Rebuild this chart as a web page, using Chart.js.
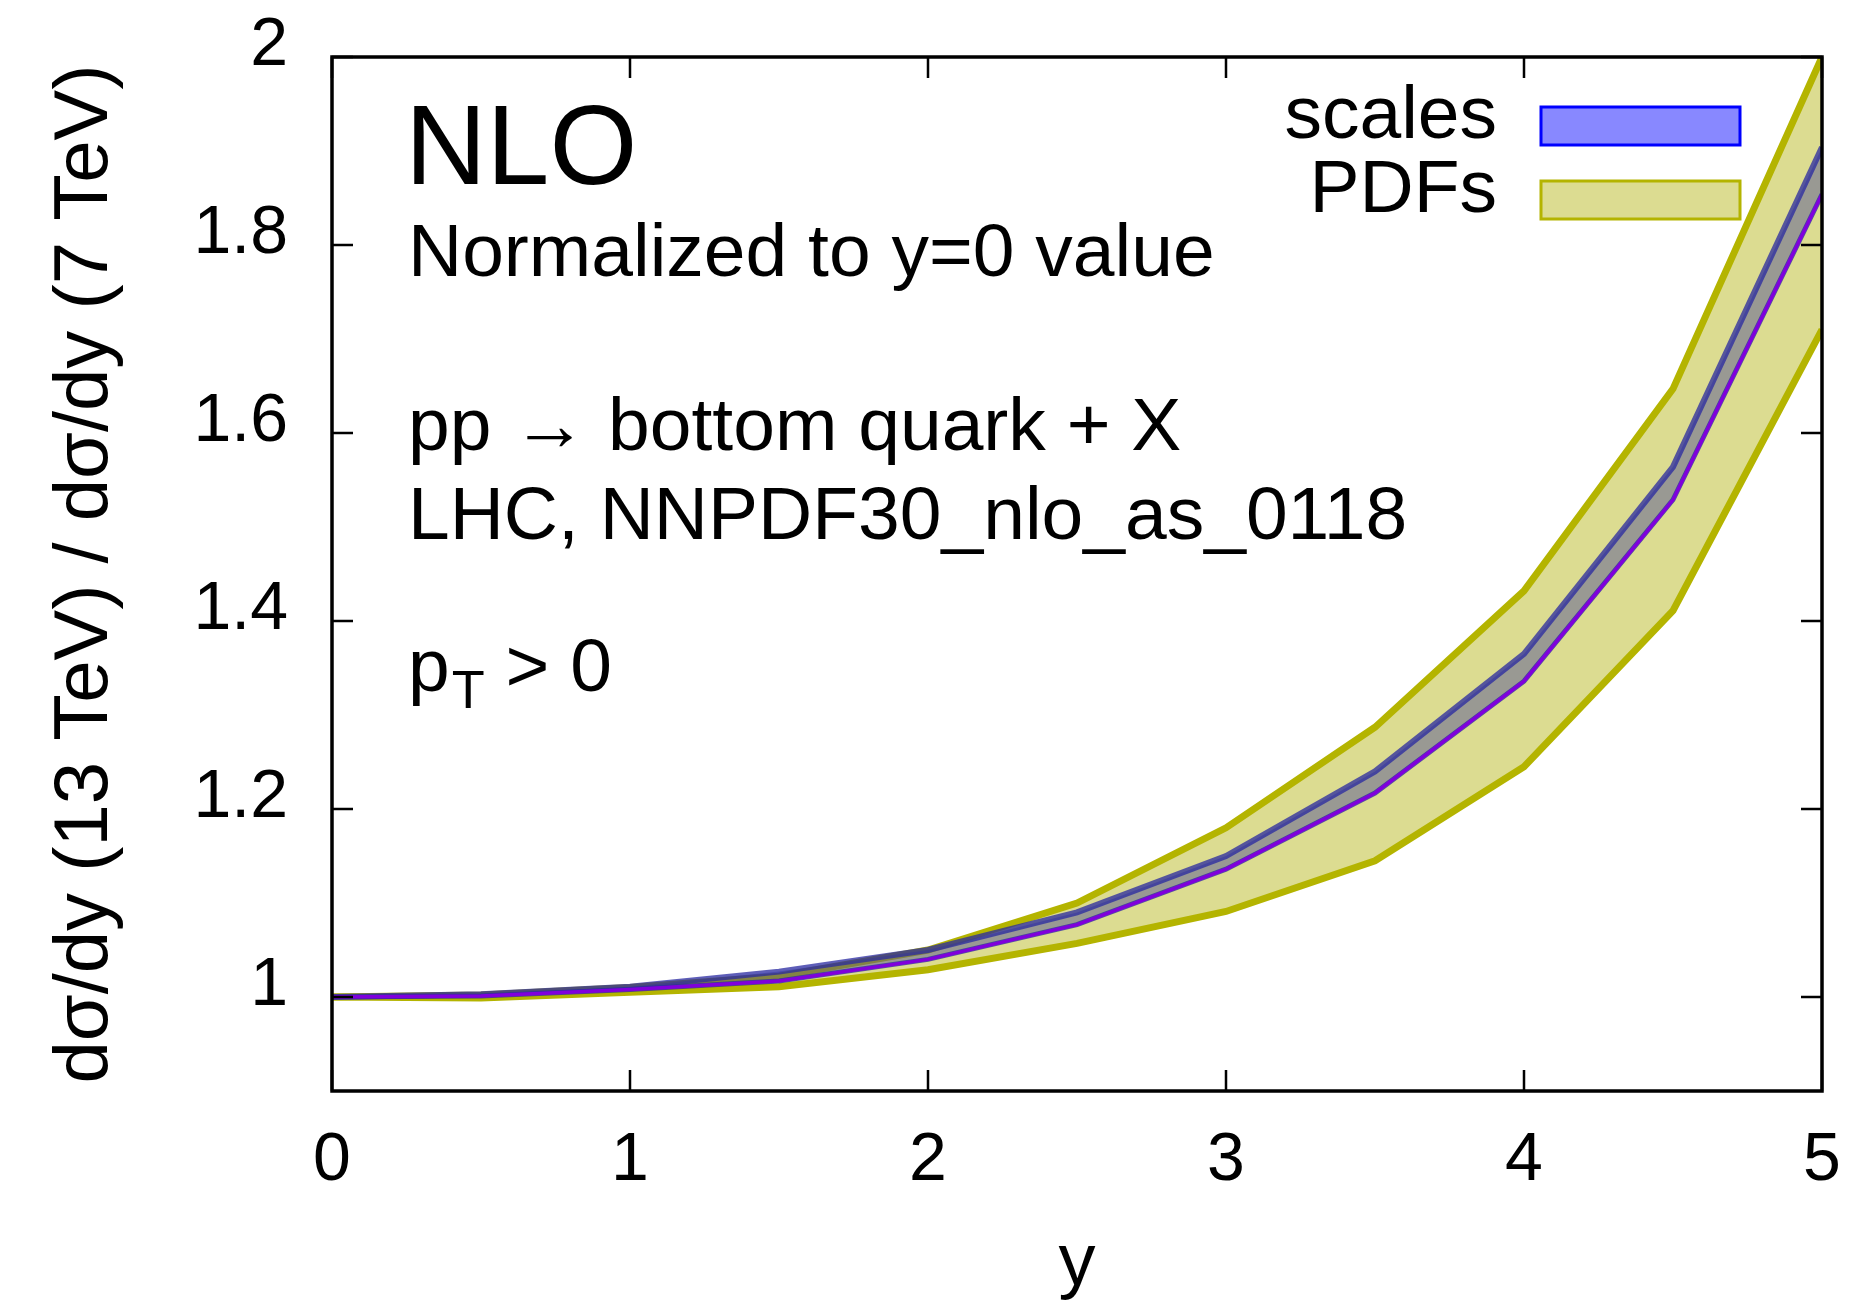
<!DOCTYPE html>
<html>
<head>
<meta charset="utf-8">
<script src="https://cdn.jsdelivr.net/npm/chart.js@4.4.1/dist/chart.umd.min.js"></script>
<style>
html, body { margin: 0; padding: 0; background: #fff; }
canvas { display: block; }
</style>
</head>
<body>
<canvas id="grafico" width="1859" height="1309"></canvas>
<script>
// rapidez y (eixo x)
const rapidez = [0, 0.5, 1, 1.5, 2, 2.5, 3, 3.5, 4, 4.5, 5];

// banda PDF (superior / inferior)
const pdfSup = [1.000, 1.002, 1.010, 1.022, 1.050, 1.100, 1.180, 1.287, 1.432, 1.647, 2.000];
const pdfInf = [1.000, 0.999, 1.005, 1.011, 1.029, 1.057, 1.091, 1.145, 1.245, 1.411, 1.710];

// banda de escalas + linha central
const escalaSup = [1.000, 1.003, 1.011, 1.027, 1.050, 1.090, 1.150, 1.240, 1.365, 1.564, 1.904];
const central   = [1.000, 1.001, 1.008, 1.017, 1.040, 1.077, 1.136, 1.217, 1.336, 1.529, 1.854];

// ticks
const xTicks = [0, 1, 2, 3, 4, 5];
const yTicks = [1, 1.2, 1.4, 1.6, 1.8, 2];

const FONTE = '"Liberation Sans", Arial, Helvetica, sans-serif';
const TICK = 21;

function pontos(valores) {
  return rapidez.map((x, i) => ({x: x, y: valores[i]}));
}

// moldura, ticks para dentro, textos e legenda
const molduraETextos = {
  id: 'molduraETextos',
  afterDatasetsDraw(chart) {
    const ctx = chart.ctx;
    const a = chart.chartArea;
    const sx = chart.scales.x, sy = chart.scales.y;
    ctx.save();

    //TICKS
    ctx.strokeStyle = '#000';
    ctx.lineWidth = 2.5;
    ctx.beginPath();
    xTicks.forEach(v => {
      const px = sx.getPixelForValue(v);
      ctx.moveTo(px, a.bottom); ctx.lineTo(px, a.bottom - TICK);
      ctx.moveTo(px, a.top); ctx.lineTo(px, a.top + TICK);
    });
    yTicks.forEach(v => {
      const py = sy.getPixelForValue(v);
      ctx.moveTo(a.left, py); ctx.lineTo(a.left + TICK, py);
      ctx.moveTo(a.right, py); ctx.lineTo(a.right - TICK, py);
    });
    ctx.stroke();

    //MOLDURA
    ctx.lineWidth = 3.5;
    ctx.strokeRect(a.left, a.top, a.right - a.left, a.bottom - a.top);

    //TEXTOS
    ctx.fillStyle = '#000';
    ctx.textAlign = 'left';
    ctx.textBaseline = 'alphabetic';
    ctx.font = '113px ' + FONTE;
    ctx.fillText('NLO', 405, 184);
    ctx.font = '75px ' + FONTE;
    ctx.fillText('Normalized to y=0 value', 408, 276);
    ctx.fillText('pp \u2192 bottom quark + X', 408, 450);
    ctx.fillText('LHC, NNPDF30_nlo_as_0118', 408, 539);
    ctx.fillText('p', 408, 691);
    let w = ctx.measureText('p').width;
    ctx.font = '54px ' + FONTE;
    ctx.fillText('T', 408 + w + 2, 708);
    const wT = ctx.measureText('T').width;
    ctx.font = '75px ' + FONTE;
    ctx.fillText(' > 0', 408 + w + 2 + wT, 691);

    //LEGENDA
    ctx.textAlign = 'right';
    ctx.fillText('scales', 1497, 138);
    ctx.fillText('PDFs', 1497, 212);
    ctx.lineWidth = 3;
    ctx.fillStyle = '#8888ff';
    ctx.strokeStyle = '#0000ff';
    ctx.fillRect(1541, 107, 199, 38);
    ctx.strokeRect(1541, 107, 199, 38);
    ctx.fillStyle = '#dcdc91';
    ctx.strokeStyle = '#b4b400';
    ctx.fillRect(1541, 181, 199, 38);
    ctx.strokeRect(1541, 181, 199, 38);

    ctx.restore();
  }
};

new Chart(document.getElementById('grafico'), {
  type: 'line',
  data: {
    datasets: [
      {
        label: 'PDFs inf',
        data: pontos(pdfInf),
        borderColor: '#b4b400',
        borderWidth: 7,
        backgroundColor: '#dcdc91',
        fill: '+1',
        order: 5
      },
      {
        label: 'PDFs sup',
        data: pontos(pdfSup),
        borderColor: '#b4b400',
        borderWidth: 7,
        fill: false,
        order: 4
      },
      {
        label: 'scales inf',
        data: pontos(central),
        borderColor: 'rgba(40,40,160,0.75)',
        borderWidth: 5,
        backgroundColor: 'rgba(70,70,150,0.45)',
        fill: '+1',
        order: 3
      },
      {
        label: 'scales sup',
        data: pontos(escalaSup),
        borderColor: 'rgba(40,40,160,0.75)',
        borderWidth: 6,
        fill: false,
        order: 2
      },
      {
        label: 'central',
        data: pontos(central),
        borderColor: '#8000dc',
        borderWidth: 3.5,
        fill: false,
        order: 1
      }
    ]
  },
  options: {
    responsive: false,
    animation: false,
    devicePixelRatio: 1,
    layout: { padding: { left: 0, top: 57, right: 37, bottom: 0 } },
    elements: { point: { radius: 0 }, line: { tension: 0 } },
    plugins: { legend: { display: false }, tooltip: { enabled: false } },
    scales: {
      x: {
        type: 'linear',
        min: 0,
        max: 5,
        grid: { display: false, drawTicks: false },
        border: { display: false },
        afterBuildTicks: axis => { axis.ticks = xTicks.map(v => ({value: v})); },
        afterFit: axis => {
          axis.height = 218;
          axis.paddingLeft = 0;
          axis.paddingRight = 0;
        },
        ticks: {
          color: '#000',
          padding: 29,
          maxRotation: 0,
          font: { family: FONTE, size: 68 },
          callback: v => String(v)
        },
        title: {
          display: true,
          text: 'y',
          color: '#000',
          font: { family: FONTE, size: 74 },
          padding: { top: 18, bottom: 0 }
        }
      },
      y: {
        type: 'linear',
        min: 0.9,
        max: 2,
        grid: { display: false, drawTicks: false },
        border: { display: false },
        afterBuildTicks: axis => { axis.ticks = yTicks.map(v => ({value: v})); },
        afterFit: axis => {
          axis.width = 332;
          axis.paddingTop = 0;
          axis.paddingBottom = 0;
        },
        ticks: {
          color: '#000',
          padding: 44,
          labelOffset: -11,
          font: { family: FONTE, size: 68 },
          callback: v => String(+v.toFixed(1))
        },
        title: {
          display: true,
          text: 'd\u03c3/dy (13 TeV) / d\u03c3/dy (7 TeV)',
          color: '#000',
          font: { family: FONTE, size: 76 },
          padding: { top: 40, bottom: 0 }
        }
      }
    }
  },
  plugins: [molduraETextos]
});
</script>
</body>
</html>
